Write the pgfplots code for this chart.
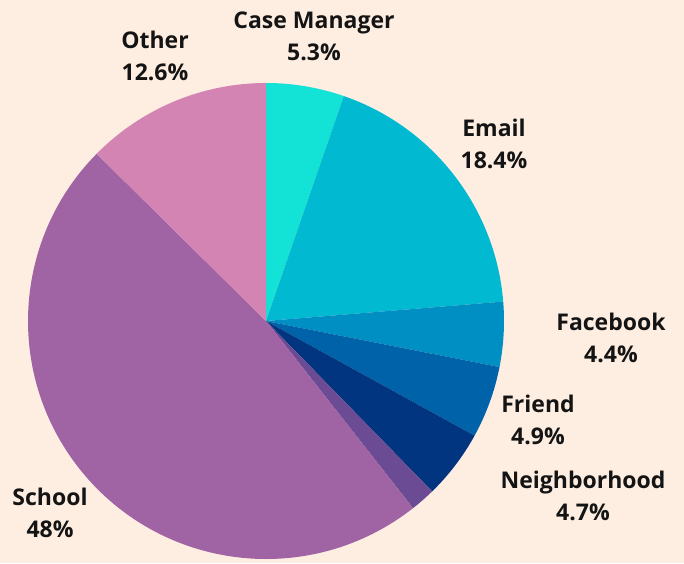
\documentclass[border=0pt]{standalone}
\usepackage{pgfplots}
\pgfplotsset{compat=1.18}
\usepackage{fontspec}
\setmainfont{Open Sans}

\definecolor{bg}{HTML}{FDEEE1}
\definecolor{cCase}{HTML}{13E2D6}
\definecolor{cEmail}{HTML}{01BAD2}
\definecolor{cFacebook}{HTML}{008FC3}
\definecolor{cFriend}{HTML}{0062A8}
\definecolor{cNeigh}{HTML}{01357F}
\definecolor{cMisc}{HTML}{6A4B94}
\definecolor{cSchool}{HTML}{A064A5}
\definecolor{cOther}{HTML}{D384B3}

% pie centre and radius in axis units (1 unit = 1pt)
\def\cx{266}
\def\cy{242}
\def\rad{238}
\def\curang{90}
% one slice: share in percent, colour; runs clockwise from \curang
\newcommand{\pieslice}[2]{%
  \pgfmathsetmacro{\endang}{\curang-3.6*#1}%
  \fill[#2, overlay] (axis cs:\cx,\cy) -- ++(\curang:\rad pt)
    arc[start angle=\curang, end angle=\endang, radius=\rad pt] -- cycle;%
  \global\let\curang\endang}

\begin{document}
\begin{tikzpicture}
  \begin{axis}[
    x=1pt, y=1pt,
    xmin=0, xmax=684, ymin=0, ymax=563,
    scale only axis, hide axis, clip=false,
  ]
    \pgfplotsextra{%
      \fill[bg] (axis cs:0,0) rectangle (axis cs:684,563);
      \pieslice{5.3}{cCase}
      \pieslice{18.4}{cEmail}
      \pieslice{4.4}{cFacebook}
      \pieslice{4.9}{cFriend}
      \pieslice{4.7}{cNeigh}
      \pieslice{1.7}{cMisc}
      \pieslice{48}{cSchool}
      \pieslice{12.6}{cOther}
    }

    \tikzset{lbl/.style={font=\bfseries\fontsize{23}{32}\selectfont, align=center, text=black!92}}
    \node[lbl] at (axis cs:314,527) {Case Manager\\5.3\%};
    \node[lbl] at (axis cs:494,419) {Email\\18.4\%};
    \node[lbl] at (axis cs:611,225) {Facebook\\4.4\%};
    \node[lbl] at (axis cs:538,143) {Friend\\4.9\%};
    \node[lbl] at (axis cs:583,67) {Neighborhood\\4.7\%};
    \node[lbl] at (axis cs:50,50) {School\\48\%};
    \node[lbl] at (axis cs:155,507) {Other\\12.6\%};
  \end{axis}
\end{tikzpicture}
\end{document}
